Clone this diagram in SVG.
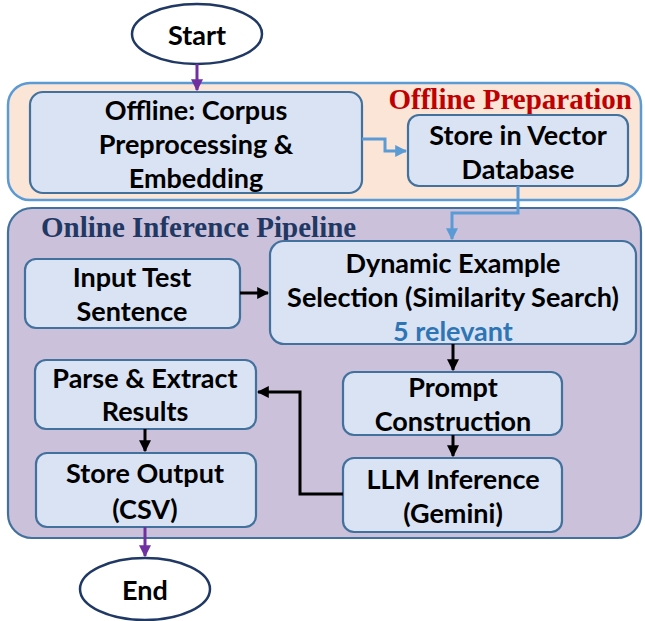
<svg xmlns="http://www.w3.org/2000/svg" width="645" height="621" viewBox="0 0 645 621">
<style>
.box{fill:#dae3f3;stroke:#41719c;stroke-width:2.2}
.term{fill:#fff;stroke:#1f3864;stroke-width:2.5}
.t{font-family:Lato,"Liberation Sans",sans-serif;font-weight:bold;font-size:27px;fill:#000;text-anchor:middle;dominant-baseline:central}
.title{font-family:"Liberation Serif","Times New Roman",serif;font-weight:bold;font-size:29px}
.blue{stroke:#5b9bd5;stroke-width:3;fill:none}
.blk{stroke:#000;stroke-width:3;fill:none}
.pur{stroke:#7030a0;stroke-width:3;fill:none}
</style>
<defs>
<marker id="ab" viewBox="0 0 10 10" refX="9" refY="5" markerWidth="4" markerHeight="4" orient="auto" markerUnits="strokeWidth"><path d="M0,0 L10,5 L0,10 z" fill="#5b9bd5"/></marker>
<marker id="ak" viewBox="0 0 10 10" refX="9" refY="5" markerWidth="4" markerHeight="4" orient="auto" markerUnits="strokeWidth"><path d="M0,0 L10,5 L0,10 z" fill="#000"/></marker>
<marker id="ap" viewBox="0 0 10 10" refX="9" refY="5" markerWidth="4" markerHeight="4" orient="auto" markerUnits="strokeWidth"><path d="M0,0 L10,5 L0,10 z" fill="#7030a0"/></marker>
</defs>

<g id="offline-container">
<rect x="8" y="83" width="633" height="117" rx="22" fill="#fbe5d6" stroke="#5b9bd5" stroke-width="2.5"/>
<text class="title" x="632" y="109" text-anchor="end" fill="#c00000">Offline Preparation</text>
</g>
<g id="online-container">
<rect x="8" y="208" width="633" height="330" rx="24" fill="#ccc1da" stroke="#41719c" stroke-width="2.2"/>
<text class="title" x="41" y="237" fill="#1f3864">Online Inference Pipeline</text>
</g>

<g id="start">
<ellipse cx="197" cy="34" rx="65" ry="30" class="term"/>
<text class="t" x="197" y="34">Start</text>
</g>
<g id="corpus">
<rect x="30" y="92" width="332" height="101" rx="13" class="box"/>
<text class="t" x="196" y="109">Offline: Corpus</text>
<text class="t" x="196" y="143">Preprocessing &amp;</text>
<text class="t" x="196" y="177">Embedding</text>
</g>
<g id="vectordb">
<rect x="408" y="115" width="220" height="71" rx="11" class="box"/>
<text class="t" x="518" y="134">Store in Vector</text>
<text class="t" x="518" y="168">Database</text>
</g>
<g id="input">
<rect x="25" y="259" width="215" height="69" rx="11" class="box"/>
<text class="t" x="132" y="276">Input Test</text>
<text class="t" x="132" y="310">Sentence</text>
</g>
<g id="selection">
<rect x="270" y="241" width="366" height="103" rx="14" class="box"/>
<text class="t" x="453" y="262">Dynamic Example</text>
<text class="t" x="453" y="296">Selection (Similarity Search)</text>
<text class="t" x="453" y="330" style="fill:#2e75b6">5 relevant</text>
</g>
<g id="prompt">
<rect x="343" y="372" width="219" height="63" rx="11" class="box"/>
<text class="t" x="453" y="386">Prompt</text>
<text class="t" x="453" y="420">Construction</text>
</g>
<g id="llm">
<rect x="343" y="458" width="219" height="74" rx="11" class="box"/>
<text class="t" x="453" y="478">LLM Inference</text>
<text class="t" x="453" y="512">(Gemini)</text>
</g>
<g id="parse">
<rect x="35" y="360" width="221" height="69" rx="11" class="box"/>
<text class="t" x="145" y="377">Parse &amp; Extract</text>
<text class="t" x="145" y="410">Results</text>
</g>
<g id="store">
<rect x="36" y="453" width="220" height="74" rx="11" class="box"/>
<text class="t" x="145" y="472">Store Output</text>
<text class="t" x="145" y="508">(CSV)</text>
</g>
<g id="end">
<ellipse cx="145" cy="589" rx="65" ry="31" class="term"/>
<text class="t" x="145" y="589">End</text>
</g>

<g id="connectors">
<path class="pur" d="M197,64 V90" marker-end="url(#ap)"/>
<path class="blue" d="M362,139 H385 V151 H406" marker-end="url(#ab)"/>
<path class="blue" d="M518,186 V213 H452 V239" marker-end="url(#ab)"/>
<path class="blk" d="M240,293 H268" marker-end="url(#ak)"/>
<path class="blk" d="M453,344 V370" marker-end="url(#ak)"/>
<path class="blk" d="M453,435 V456" marker-end="url(#ak)"/>
<path class="blk" d="M343,494 H300 V392 H258" marker-end="url(#ak)"/>
<path class="blk" d="M145,429 V451" marker-end="url(#ak)"/>
<path class="pur" d="M145,527 V556" marker-end="url(#ap)"/>
</g>
</svg>
